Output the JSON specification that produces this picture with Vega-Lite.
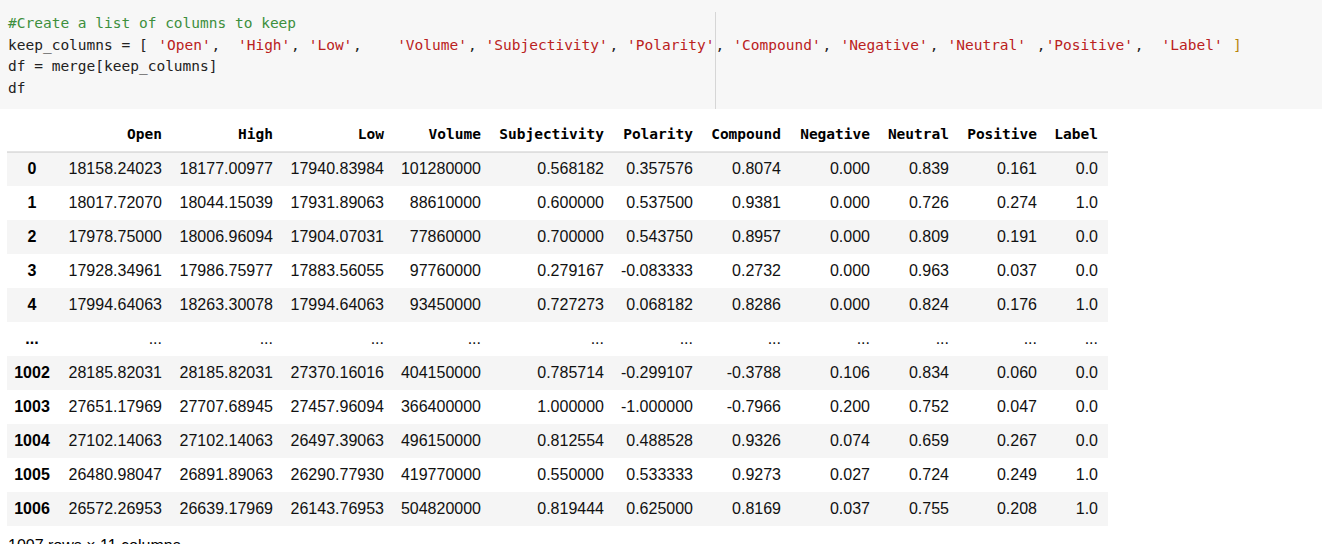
{
  "$schema": "https://vega.github.io/schema/vega-lite/v6.json",
  "width": 1322,
  "height": 544,
  "autosize": "none",
  "padding": 0,
  "background": "white",
  "config": {"view": {"stroke": null}, "axis": {"disable": true}},
  "datasets": {
    "code": [
      {"line": 1, "col": 0, "text": "#Create a list of columns to keep", "kind": "comment"},
      {"line": 2, "col": 0, "text": "keep_columns = [", "kind": "plain"},
      {"line": 2, "col": 17, "text": "'Open'", "kind": "string"},
      {"line": 2, "col": 23, "text": ",", "kind": "plain"},
      {"line": 2, "col": 26, "text": "'High'", "kind": "string"},
      {"line": 2, "col": 32, "text": ",", "kind": "plain"},
      {"line": 2, "col": 34, "text": "'Low'", "kind": "string"},
      {"line": 2, "col": 39, "text": ",", "kind": "plain"},
      {"line": 2, "col": 44, "text": "'Volume'", "kind": "string"},
      {"line": 2, "col": 52, "text": ",", "kind": "plain"},
      {"line": 2, "col": 54, "text": "'Subjectivity'", "kind": "string"},
      {"line": 2, "col": 68, "text": ",", "kind": "plain"},
      {"line": 2, "col": 70, "text": "'Polarity'", "kind": "string"},
      {"line": 2, "col": 80, "text": ",", "kind": "plain"},
      {"line": 2, "col": 82, "text": "'Compound'", "kind": "string"},
      {"line": 2, "col": 92, "text": ",", "kind": "plain"},
      {"line": 2, "col": 94, "text": "'Negative'", "kind": "string"},
      {"line": 2, "col": 104, "text": ",", "kind": "plain"},
      {"line": 2, "col": 106, "text": "'Neutral'", "kind": "string"},
      {"line": 2, "col": 116, "text": ",", "kind": "plain"},
      {"line": 2, "col": 117, "text": "'Positive'", "kind": "string"},
      {"line": 2, "col": 127, "text": ",", "kind": "plain"},
      {"line": 2, "col": 130, "text": "'Label'", "kind": "string"},
      {"line": 2, "col": 138, "text": "]", "kind": "bracket"},
      {"line": 3, "col": 0, "text": "df = merge[keep_columns]", "kind": "plain"},
      {"line": 4, "col": 0, "text": "df", "kind": "plain"}
    ],
    "columns": [
      {"name": "Open", "pos": 1},
      {"name": "High", "pos": 2},
      {"name": "Low", "pos": 3},
      {"name": "Volume", "pos": 4},
      {"name": "Subjectivity", "pos": 5},
      {"name": "Polarity", "pos": 6},
      {"name": "Compound", "pos": 7},
      {"name": "Negative", "pos": 8},
      {"name": "Neutral", "pos": 9},
      {"name": "Positive", "pos": 10},
      {"name": "Label", "pos": 11}
    ],
    "rows": [
      {"row": "0", "Open": "18158.24023", "High": "18177.00977", "Low": "17940.83984", "Volume": "101280000", "Subjectivity": "0.568182", "Polarity": "0.357576", "Compound": "0.8074", "Negative": "0.000", "Neutral": "0.839", "Positive": "0.161", "Label": "0.0"},
      {"row": "1", "Open": "18017.72070", "High": "18044.15039", "Low": "17931.89063", "Volume": "88610000", "Subjectivity": "0.600000", "Polarity": "0.537500", "Compound": "0.9381", "Negative": "0.000", "Neutral": "0.726", "Positive": "0.274", "Label": "1.0"},
      {"row": "2", "Open": "17978.75000", "High": "18006.96094", "Low": "17904.07031", "Volume": "77860000", "Subjectivity": "0.700000", "Polarity": "0.543750", "Compound": "0.8957", "Negative": "0.000", "Neutral": "0.809", "Positive": "0.191", "Label": "0.0"},
      {"row": "3", "Open": "17928.34961", "High": "17986.75977", "Low": "17883.56055", "Volume": "97760000", "Subjectivity": "0.279167", "Polarity": "-0.083333", "Compound": "0.2732", "Negative": "0.000", "Neutral": "0.963", "Positive": "0.037", "Label": "0.0"},
      {"row": "4", "Open": "17994.64063", "High": "18263.30078", "Low": "17994.64063", "Volume": "93450000", "Subjectivity": "0.727273", "Polarity": "0.068182", "Compound": "0.8286", "Negative": "0.000", "Neutral": "0.824", "Positive": "0.176", "Label": "1.0"},
      {"row": "...", "Open": "...", "High": "...", "Low": "...", "Volume": "...", "Subjectivity": "...", "Polarity": "...", "Compound": "...", "Negative": "...", "Neutral": "...", "Positive": "...", "Label": "..."},
      {"row": "1002", "Open": "28185.82031", "High": "28185.82031", "Low": "27370.16016", "Volume": "404150000", "Subjectivity": "0.785714", "Polarity": "-0.299107", "Compound": "-0.3788", "Negative": "0.106", "Neutral": "0.834", "Positive": "0.060", "Label": "0.0"},
      {"row": "1003", "Open": "27651.17969", "High": "27707.68945", "Low": "27457.96094", "Volume": "366400000", "Subjectivity": "1.000000", "Polarity": "-1.000000", "Compound": "-0.7966", "Negative": "0.200", "Neutral": "0.752", "Positive": "0.047", "Label": "0.0"},
      {"row": "1004", "Open": "27102.14063", "High": "27102.14063", "Low": "26497.39063", "Volume": "496150000", "Subjectivity": "0.812554", "Polarity": "0.488528", "Compound": "0.9326", "Negative": "0.074", "Neutral": "0.659", "Positive": "0.267", "Label": "0.0"},
      {"row": "1005", "Open": "26480.98047", "High": "26891.89063", "Low": "26290.77930", "Volume": "419770000", "Subjectivity": "0.550000", "Polarity": "0.533333", "Compound": "0.9273", "Negative": "0.027", "Neutral": "0.724", "Positive": "0.249", "Label": "1.0"},
      {"row": "1006", "Open": "26572.26953", "High": "26639.17969", "Low": "26143.76953", "Volume": "504820000", "Subjectivity": "0.819444", "Polarity": "0.625000", "Compound": "0.8169", "Negative": "0.037", "Neutral": "0.755", "Positive": "0.208", "Label": "1.0"}
    ],
    "footer": [{"row": "footer", "text": "1007 rows × 11 columns"}]
  },
  "layer": [
    {
      "layer": [
        {
          "data": {"values": [{"cell": "In"}]},
          "mark": {"type": "rect", "color": "#f7f7f7"},
          "encoding": {
            "y": {"datum": 0, "type": "quantitative", "scale": {"domain": [0, 1, 4, 5], "range": [0, 24, 89, 109]}},
            "y2": {"datum": 5}
          }
        },
        {
          "data": {"values": [{"ruler": 80}]},
          "mark": {"type": "rule", "color": "#d6d6d6", "strokeWidth": 1},
          "encoding": {
            "x": {"field": "ruler", "type": "quantitative", "scale": {"domain": [0, 80, 138], "range": [8, 715.5, 1233]}},
            "y": {"datum": 0.5, "type": "quantitative", "scale": {"domain": [0, 1, 4, 5], "range": [0, 24, 89, 109]}},
            "y2": {"datum": 5}
          }
        },
        {
          "data": {"name": "code"},
          "mark": {"type": "text", "align": "left", "baseline": "middle", "font": "DejaVu Sans Mono", "fontSize": 14.5},
          "encoding": {
            "x": {"field": "col", "type": "quantitative", "scale": {"domain": [0, 80, 138], "range": [8, 715.5, 1233]}},
            "y": {"field": "line", "type": "quantitative", "scale": {"domain": [0, 1, 4, 5], "range": [0, 24, 89, 109]}},
            "text": {"field": "text"},
            "color": {"field": "kind", "type": "nominal", "legend": null, "scale": {"domain": ["plain", "comment", "string", "bracket"], "range": ["#222222", "#3d8f3d", "#ba2121", "#b8860b"]}}
          }
        }
      ]
    },
    {
      "layer": [
        {
          "data": {"name": "rows"},
          "transform": [{"filter": {"field": "row", "oneOf": ["0", "2", "4", "1002", "1004", "1006"]}}],
          "mark": {"type": "rect", "color": "#f5f5f5"},
          "encoding": {
            "x": {"datum": -1, "type": "quantitative", "scale": {"domain": [-1, 0, 1, 2, 3, 4, 5, 6, 7, 8, 9, 10, 11, 12], "range": [7, 32, 162, 273, 384, 481, 604, 693, 781, 870, 949, 1037, 1098, 1108]}},
            "x2": {"datum": 12},
            "y": {"field": "row", "type": "nominal", "scale": {"type": "band", "domain": ["header", "0", "1", "2", "3", "4", "...", "1002", "1003", "1004", "1005", "1006", "footer"], "range": [118, 560], "paddingInner": 0, "paddingOuter": 0}}
          }
        },
        {
          "data": {"values": [{"row": "header"}]},
          "mark": {"type": "rule", "color": "#c8c8c8", "strokeWidth": 1},
          "encoding": {
            "x": {"datum": -1, "type": "quantitative", "scale": {"domain": [-1, 0, 1, 2, 3, 4, 5, 6, 7, 8, 9, 10, 11, 12], "range": [7, 32, 162, 273, 384, 481, 604, 693, 781, 870, 949, 1037, 1098, 1108]}},
            "x2": {"datum": 12},
            "y": {"field": "row", "type": "nominal", "bandPosition": 1, "scale": {"type": "band", "domain": ["header", "0", "1", "2", "3", "4", "...", "1002", "1003", "1004", "1005", "1006", "footer"], "range": [118, 560], "paddingInner": 0, "paddingOuter": 0}}
          }
        },
        {
          "data": {"name": "columns"},
          "mark": {"type": "text", "align": "right", "baseline": "middle", "font": "DejaVu Sans Mono", "fontWeight": "bold", "fontSize": 14.5, "color": "#000000"},
          "encoding": {
            "x": {"field": "pos", "type": "quantitative", "scale": {"domain": [-1, 0, 1, 2, 3, 4, 5, 6, 7, 8, 9, 10, 11, 12], "range": [7, 32, 162, 273, 384, 481, 604, 693, 781, 870, 949, 1037, 1098, 1108]}},
            "y": {"datum": "header", "type": "nominal", "scale": {"type": "band", "domain": ["header", "0", "1", "2", "3", "4", "...", "1002", "1003", "1004", "1005", "1006", "footer"], "range": [118, 560], "paddingInner": 0, "paddingOuter": 0}},
            "text": {"field": "name"}
          }
        },
        {
          "data": {"name": "rows"},
          "mark": {"type": "text", "align": "center", "baseline": "middle", "font": "Liberation Sans", "fontWeight": "bold", "fontSize": 16, "color": "#000000"},
          "encoding": {
            "x": {"datum": 0, "type": "quantitative", "scale": {"domain": [-1, 0, 1, 2, 3, 4, 5, 6, 7, 8, 9, 10, 11, 12], "range": [7, 32, 162, 273, 384, 481, 604, 693, 781, 870, 949, 1037, 1098, 1108]}},
            "y": {"field": "row", "type": "nominal", "scale": {"type": "band", "domain": ["header", "0", "1", "2", "3", "4", "...", "1002", "1003", "1004", "1005", "1006", "footer"], "range": [118, 560], "paddingInner": 0, "paddingOuter": 0}},
            "text": {"field": "row"}
          }
        },
        {
          "data": {"name": "rows"},
          "transform": [
            {"fold": ["Open", "High", "Low", "Volume", "Subjectivity", "Polarity", "Compound", "Negative", "Neutral", "Positive", "Label"], "as": ["name", "value"]},
            {"lookup": "name", "from": {"data": {"name": "columns"}, "key": "name", "fields": ["pos"]}}
          ],
          "mark": {"type": "text", "align": "right", "baseline": "middle", "font": "Liberation Sans", "fontSize": 16, "color": "#111111"},
          "encoding": {
            "x": {"field": "pos", "type": "quantitative", "scale": {"domain": [-1, 0, 1, 2, 3, 4, 5, 6, 7, 8, 9, 10, 11, 12], "range": [7, 32, 162, 273, 384, 481, 604, 693, 781, 870, 949, 1037, 1098, 1108]}},
            "y": {"field": "row", "type": "nominal", "scale": {"type": "band", "domain": ["header", "0", "1", "2", "3", "4", "...", "1002", "1003", "1004", "1005", "1006", "footer"], "range": [118, 560], "paddingInner": 0, "paddingOuter": 0}},
            "text": {"field": "value"}
          }
        },
        {
          "data": {"name": "footer"},
          "mark": {"type": "text", "align": "left", "baseline": "middle", "font": "Liberation Sans", "fontSize": 16, "color": "#000000", "dx": 1, "dy": 3},
          "encoding": {
            "x": {"datum": -1, "type": "quantitative", "scale": {"domain": [-1, 0, 1, 2, 3, 4, 5, 6, 7, 8, 9, 10, 11, 12], "range": [7, 32, 162, 273, 384, 481, 604, 693, 781, 870, 949, 1037, 1098, 1108]}},
            "y": {"field": "row", "type": "nominal", "scale": {"type": "band", "domain": ["header", "0", "1", "2", "3", "4", "...", "1002", "1003", "1004", "1005", "1006", "footer"], "range": [118, 560], "paddingInner": 0, "paddingOuter": 0}},
            "text": {"field": "text"}
          }
        }
      ]
    }
  ],
  "resolve": {"scale": {"x": "independent", "y": "independent", "color": "independent"}}
}
